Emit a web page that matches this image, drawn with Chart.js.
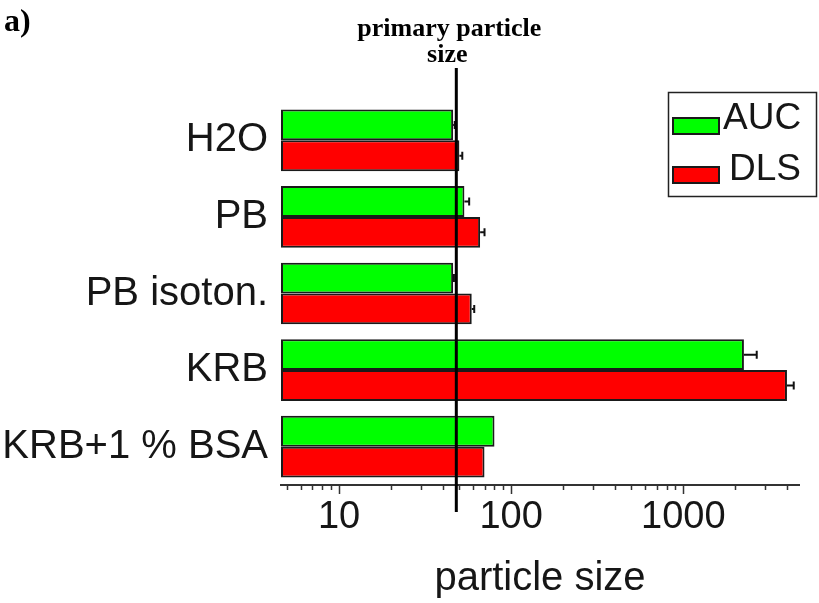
<!DOCTYPE html>
<html>
<head>
<meta charset="utf-8">
<script src="https://cdn.jsdelivr.net/npm/chart.js@4/dist/chart.umd.min.js"></script>
<style>
  html, body { margin: 0; padding: 0; background: #ffffff; }
  #wrap { width: 819px; height: 603px; position: relative; }
</style>
</head>
<body>
<div id="wrap"><canvas id="chart" width="819" height="603"></canvas></div>
<script>
// Dispersion media and measured particle sizes (AUC vs. DLS)
const categories = ['H2O', 'PB', 'PB isoton.', 'KRB', 'KRB+1 % BSA'];
const aucValues = [46, 53.5, 46, 2250, 80];
const dlsValues = [50, 66, 59, 4000, 70];
const aucErrors = [1, 3.5, 0.5, 420, 0];
const dlsErrors = [2, 4, 2, 380, 0];
const majorTicks = [10, 100, 1000];
const axisMin = 4.6;
const axisMax = 4700;
const primarySize = 48;

const SANS = '"Liberation Sans", Arial, sans-serif';
const SERIF = '"Liberation Serif", "Times New Roman", serif';
const INK = '#161616';

// Error bars: horizontal whisker from the bar end with a small cap
const errorBars = {
  id: 'errorBars',
  afterDatasetsDraw(chart) {
    const ctx = chart.ctx;
    const xs = chart.scales.x;
    ctx.save();
    ctx.strokeStyle = '#111111';
    ctx.lineWidth = 2;
    chart.data.datasets.forEach((ds, di) => {
      const meta = chart.getDatasetMeta(di);
      meta.data.forEach((el, i) => {
        const err = ds.errors[i];
        if (!err) return;
        const x1 = xs.getPixelForValue(ds.data[i]);
        const x2 = xs.getPixelForValue(ds.data[i] + err);
        const y = el.y;
        ctx.beginPath();
        ctx.moveTo(x1, y);
        ctx.lineTo(x2, y);
        ctx.moveTo(x2, y - 4);
        ctx.lineTo(x2, y + 4);
        ctx.stroke();
      });
    });
    ctx.restore();
  }
};

// Reference line at the primary particle size, with its caption
const primaryLine = {
  id: 'primaryLine',
  afterDatasetsDraw(chart) {
    const ctx = chart.ctx;
    const x = chart.scales.x.getPixelForValue(primarySize);
    ctx.save();
    ctx.strokeStyle = '#000000';
    ctx.lineWidth = 3;
    ctx.beginPath();
    ctx.moveTo(x, 68);
    ctx.lineTo(x, 512);
    ctx.stroke();
    ctx.fillStyle = '#000000';
    ctx.font = 'bold 26px ' + SERIF;
    ctx.textAlign = 'center';
    ctx.textBaseline = 'alphabetic';
    ctx.fillText('primary particle', x - 7, 36);
    ctx.fillText('size', x - 9, 62);
    ctx.restore();
  }
};

// Log-axis tick marks: long at decades, short in between
const logTickMarks = {
  id: 'logTickMarks',
  afterDraw(chart) {
    const ctx = chart.ctx;
    const xs = chart.scales.x;
    const y0 = chart.chartArea.bottom;
    ctx.save();
    ctx.strokeStyle = '#333333';
    ctx.lineWidth = 1.5;
    ctx.beginPath();
    for (let p = 0; p <= 3; p++) {
      for (let k = 1; k <= 9; k++) {
        const v = k * Math.pow(10, p);
        if (v < axisMin || v > axisMax) continue;
        const x = Math.round(xs.getPixelForValue(v)) + 0.5;
        ctx.moveTo(x, y0);
        ctx.lineTo(x, y0 + (k === 1 ? 9 : 5));
      }
    }
    ctx.stroke();
    ctx.restore();
  }
};

// Panel letter and boxed legend
const panelDecor = {
  id: 'panelDecor',
  afterDraw(chart) {
    const ctx = chart.ctx;
    ctx.save();
    ctx.fillStyle = '#000000';
    ctx.font = 'bold 32px ' + SERIF;
    ctx.textAlign = 'left';
    ctx.textBaseline = 'alphabetic';
    ctx.fillText('a)', 4, 31);

    // legend frame
    ctx.strokeStyle = '#222222';
    ctx.lineWidth = 1.5;
    ctx.strokeRect(668.5, 92.5, 148, 104);
    const rows = [126, 175];
    chart.data.datasets.forEach((ds, i) => {
      const cy = rows[i];
      ctx.fillStyle = ds.backgroundColor;
      ctx.fillRect(673, cy - 8, 46, 16);
      ctx.strokeStyle = '#1a1a1a';
      ctx.lineWidth = 2;
      ctx.strokeRect(673, cy - 8, 46, 16);
      ctx.fillStyle = INK;
      ctx.font = '37px ' + SANS;
      ctx.textBaseline = 'alphabetic';
      ctx.fillText(ds.label, i === 0 ? 723 : 729, cy + (i === 0 ? 3 : 5));
    });
    ctx.restore();
  }
};

new Chart(document.getElementById('chart'), {
  type: 'bar',
  data: {
    labels: categories,
    datasets: [
      {
        label: 'AUC',
        data: aucValues,
        errors: aucErrors,
        backgroundColor: '#00ff00',
        borderColor: '#1a1a1a',
        borderWidth: 2,
        borderSkipped: false
      },
      {
        label: 'DLS',
        data: dlsValues,
        errors: dlsErrors,
        backgroundColor: '#ff0000',
        borderColor: '#1a1a1a',
        borderWidth: 2,
        borderSkipped: false
      }
    ]
  },
  options: {
    indexAxis: 'y',
    responsive: false,
    animation: false,
    devicePixelRatio: 1,
    categoryPercentage: 0.805,
    barPercentage: 1.0,
    layout: { padding: { left: 0, right: 20, top: 102, bottom: 0 } },
    plugins: {
      legend: { display: false },
      tooltip: { enabled: false },
      title: { display: false }
    },
    scales: {
      x: {
        type: 'logarithmic',
        min: axisMin,
        max: axisMax,
        afterBuildTicks: (s) => { s.ticks = majorTicks.map(v => ({ value: v, major: true })); },
        afterFit: (s) => { s.height = 118; },
        grid: { display: false, drawTicks: false },
        border: { display: true, color: '#333333', width: 2 },
        ticks: {
          autoSkip: false,
          maxRotation: 0,
          padding: 10,
          color: INK,
          font: { family: SANS, size: 38 },
          callback: (v) => String(v)
        },
        title: {
          display: true,
          text: 'particle size',
          color: INK,
          font: { family: SANS, size: 40 },
          padding: { top: 0, bottom: 0 }
        }
      },
      y: {
        afterFit: (s) => { s.width = 281; },
        grid: { display: false, drawTicks: false },
        border: { display: false },
        ticks: {
          padding: 13,
          color: INK,
          font: { family: SANS, size: 40 }
        }
      }
    }
  },
  plugins: [errorBars, primaryLine, logTickMarks, panelDecor]
});
</script>
</body>
</html>
